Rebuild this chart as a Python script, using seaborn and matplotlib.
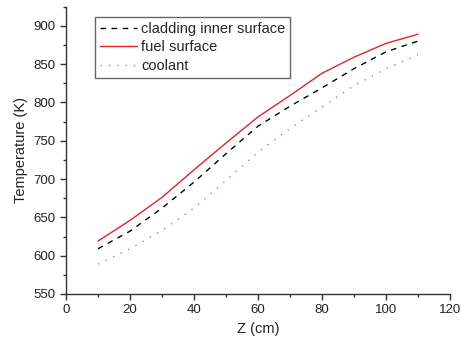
import numpy as np
import pandas as pd
import seaborn as sns
import matplotlib.pyplot as plt

z_cm = [10, 20, 30, 40, 50, 60, 70, 80, 90, 100, 110]
t_cladding = [609, 632, 662, 696, 733, 769, 795, 819, 844, 866, 880]
t_fuel = [619, 646, 676, 712, 747, 781, 809, 838, 859, 877, 889]
t_coolant = [589, 609, 633, 662, 698, 735, 766, 794, 822, 844, 862]

sns.set_style("ticks")
plt.rcParams['font.family'] = ['Liberation Sans', 'DejaVu Sans']

fig = plt.figure(figsize=(4.62, 3.40), dpi=100)
ax = fig.add_axes([66 / 462, 46 / 340, 384 / 462, 287.4 / 340])

sns.lineplot(x=z_cm, y=t_cladding, ax=ax, color='black', linestyle=(0, (4, 4)),
             linewidth=1, label='cladding inner surface')
sns.lineplot(x=z_cm, y=t_fuel, ax=ax, color='#e8202a', linewidth=1, label='fuel surface')
sns.lineplot(x=z_cm, y=t_coolant, ax=ax, color='#8090c8', linestyle=(0, (1, 5)),
             linewidth=1, label='coolant')

ax.set_xlim(0, 120)
ax.set_ylim(550, 925)
ax.set_xticks(np.arange(0, 121, 20))
ax.set_xticks(np.arange(10, 121, 20), minor=True)
ax.set_yticks(np.arange(550, 901, 50))
ax.set_yticks(np.arange(575, 926, 50), minor=True)
ax.tick_params(which='major', length=4, width=1, labelsize=9.5, colors='#333333', labelcolor='#222222')
ax.tick_params(which='minor', length=2.5, width=1, colors='#333333')
for s in ['left', 'bottom']:
    ax.spines[s].set_color('#333333')
    ax.spines[s].set_linewidth(1)
sns.despine(ax=ax)

ax.set_xlabel('Z (cm)', fontsize=10.5, color='#222222')
ax.set_ylabel('Temperature (K)', fontsize=10.5, color='#222222')

leg = ax.legend(loc='upper left', bbox_to_anchor=(0.0755, 0.964), borderaxespad=0,
                fancybox=False, framealpha=1, edgecolor='#666666', fontsize=10.5,
                handlelength=2.5, handletextpad=0.3, labelspacing=0.3, borderpad=0.35)
leg.get_frame().set_linewidth(1)

fig.savefig('out.png', dpi=100)
